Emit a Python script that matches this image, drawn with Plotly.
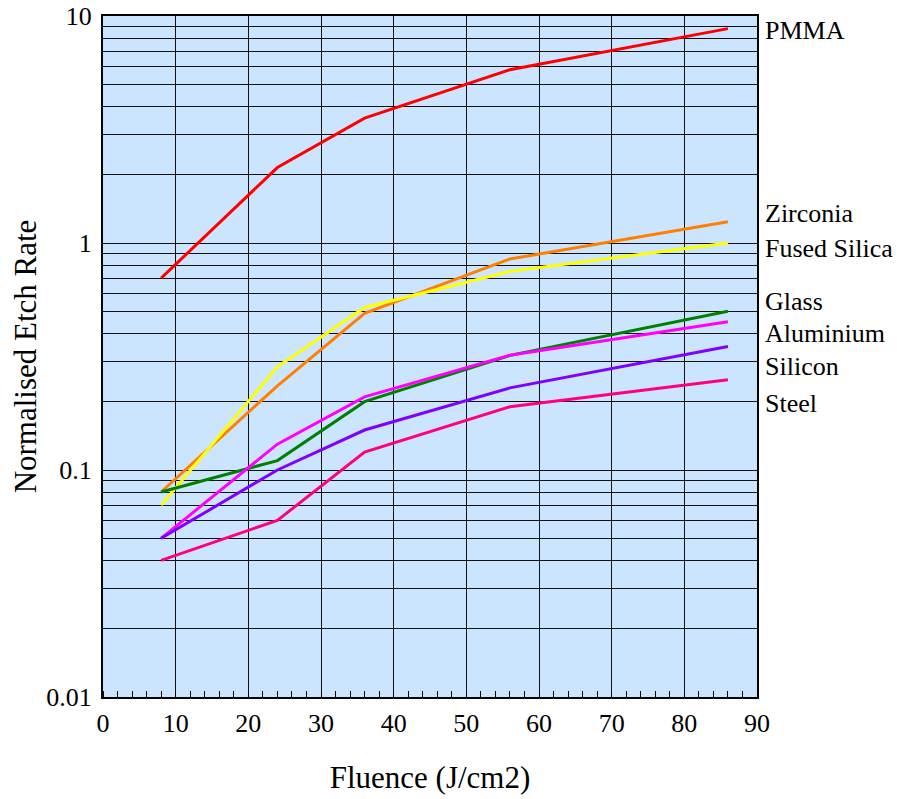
import plotly.graph_objects as go
import math

fluence = [8, 24, 36, 56, 86]
pmma = [0.70, 2.15, 3.55, 5.8, 8.8]
zirconia = [0.08, 0.235, 0.49, 0.85, 1.24]
fused_silica = [0.07, 0.285, 0.52, 0.75, 1.0]
glass = [0.08, 0.11, 0.20, 0.32, 0.50]
aluminium = [0.05, 0.13, 0.21, 0.32, 0.45]
silicon = [0.05, 0.10, 0.15, 0.23, 0.35]
steel = [0.04, 0.06, 0.12, 0.19, 0.25]

series = [
    ("PMMA", pmma, "#FF0000"),
    ("Zirconia", zirconia, "#FF8000"),
    ("Fused Silica", fused_silica, "#FFFF00"),
    ("Glass", glass, "#008000"),
    ("Aluminium", aluminium, "#FF00FF"),
    ("Silicon", silicon, "#8000FF"),
    ("Steel", steel, "#FF0080"),
]
label_y = {"PMMA": 8.6, "Zirconia": 1.355, "Fused Silica": 0.95, "Glass": 0.55,
           "Aluminium": 0.40, "Silicon": 0.287, "Steel": 0.197}

x_ticks = [0, 10, 20, 30, 40, 50, 60, 70, 80, 90]
y_tickvals = []
y_ticktext = []
for e in [-2, -1, 0]:
    for m in range(1, 10):
        y_tickvals.append(m * 10 ** e)
        y_ticktext.append({-2: "0.01", -1: "0.1", 0: "1"}[e] if m == 1 else "")
y_tickvals.append(10)
y_ticktext.append("10")

font = dict(family="Liberation Serif", size=26, color="black")

fig = go.Figure()
for name, vals, col in series:
    fig.add_trace(go.Scatter(x=fluence, y=vals, mode="lines", name=name,
                             line=dict(color=col, width=3), showlegend=False))
    fig.add_annotation(x=1.0, xref="paper", xanchor="left", xshift=6,
                       y=math.log10(label_y[name]), yref="y", yanchor="middle",
                       text=name, showarrow=False, font=font)

fig.update_layout(
    width=905, height=799,
    margin=dict(l=103, r=148, t=16, b=102),
    paper_bgcolor="white", plot_bgcolor="#CCE5FF",
    font=font,
    xaxis=dict(range=[0, 90], tickvals=x_ticks, showgrid=True, gridcolor="#111",
               gridwidth=1, showline=True, linecolor="black", linewidth=2,
               mirror=True, ticks="", zeroline=False, automargin=False,
               ticklabelstandoff=2, ticklabeloverflow="allow",
               minor=dict(ticks="inside", dtick=2, tick0=0, ticklen=6,
                          tickcolor="black", tickwidth=1, showgrid=False),
               title=dict(text="Fluence (J/cm2)", standoff=29), tickfont=font),
    yaxis=dict(type="log", range=[-2, 1], tickvals=y_tickvals, ticktext=y_ticktext,
               showgrid=True, gridcolor="#111", gridwidth=1, showline=True,
               linecolor="black", linewidth=2, mirror=True, ticks="",
               automargin=False, ticklabelstandoff=4, ticklabeloverflow="allow",
               title=dict(text="Normalised Etch Rate", standoff=0), tickfont=font),
)
fig.write_html("out.html", config={"displayModeBar": False},
               post_script="document.body.style.margin='0';document.body.style.overflow='hidden';")
